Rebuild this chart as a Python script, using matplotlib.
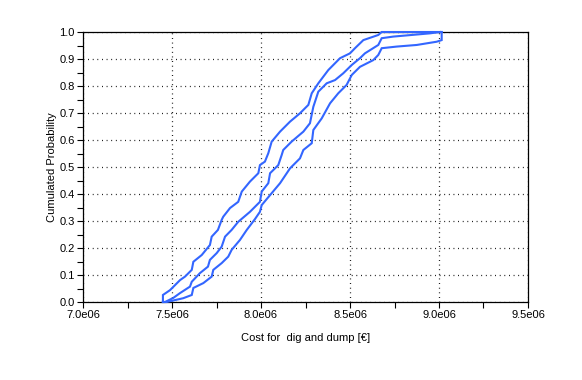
import matplotlib
matplotlib.use("Agg")
import matplotlib.pyplot as plt
from matplotlib.ticker import MultipleLocator, FuncFormatter

# Upper band (left curve)
upper_x = [7.449e6, 7.449e6, 7.489e6, 7.545e6, 7.573e6, 7.611e6, 7.620e6, 7.667e6, 7.713e6,
           7.723e6, 7.758e6, 7.779e6, 7.788e6, 7.826e6, 7.872e6, 7.892e6, 7.938e6, 7.985e6,
           7.994e6, 8.022e6, 8.041e6, 8.060e6, 8.107e6, 8.163e6, 8.219e6, 8.266e6, 8.285e6,
           8.322e6, 8.378e6, 8.444e6, 8.500e6, 8.528e6, 8.575e6, 8.659e6, 8.678e6, 9.015e6]
upper_y = [0.0, 0.026, 0.044, 0.081, 0.094, 0.119, 0.149, 0.174, 0.211,
           0.242, 0.267, 0.304, 0.316, 0.348, 0.371, 0.409, 0.446, 0.477,
           0.507, 0.520, 0.551, 0.594, 0.631, 0.668, 0.699, 0.730, 0.773,
           0.810, 0.859, 0.903, 0.921, 0.940, 0.970, 0.989, 1.0, 1.0]

# Middle curve (empirical CDF)
mid_x = [7.449e6, 7.461e6, 7.507e6, 7.545e6, 7.601e6, 7.611e6, 7.657e6, 7.702e6, 7.713e6,
         7.751e6, 7.779e6, 7.798e6, 7.835e6, 7.872e6, 7.938e6, 7.994e6, 8.004e6, 8.041e6,
         8.051e6, 8.097e6, 8.116e6, 8.125e6, 8.172e6, 8.238e6, 8.275e6, 8.294e6, 8.322e6,
         8.369e6, 8.416e6, 8.462e6, 8.510e6, 8.556e6, 8.584e6, 8.659e6, 8.678e6, 8.743e6,
         8.949e6, 9.006e6]
mid_y = [0.0, 0.0, 0.015, 0.033, 0.057, 0.075, 0.107, 0.131, 0.156,
         0.181, 0.205, 0.242, 0.267, 0.297, 0.334, 0.371, 0.409, 0.440,
         0.477, 0.507, 0.544, 0.563, 0.594, 0.631, 0.662, 0.723, 0.779,
         0.810, 0.822, 0.847, 0.878, 0.903, 0.921, 0.952, 0.977, 0.983,
         0.995, 1.0]

# Lower band (right curve)
lower_x = [7.449e6, 7.470e6, 7.563e6, 7.611e6, 7.620e6, 7.676e6, 7.723e6, 7.732e6, 7.779e6,
           7.816e6, 7.835e6, 7.882e6, 7.920e6, 7.966e6, 7.994e6, 8.004e6, 8.051e6, 8.107e6,
           8.163e6, 8.219e6, 8.238e6, 8.285e6, 8.294e6, 8.341e6, 8.388e6, 8.434e6, 8.481e6,
           8.510e6, 8.556e6, 8.631e6, 8.659e6, 8.678e6, 8.762e6, 8.875e6, 8.987e6, 9.015e6,
           9.015e6]
lower_y = [0.0, 0.0, 0.014, 0.026, 0.052, 0.070, 0.094, 0.119, 0.144,
           0.168, 0.193, 0.230, 0.267, 0.307, 0.334, 0.359, 0.396, 0.440,
           0.495, 0.532, 0.563, 0.588, 0.637, 0.680, 0.736, 0.773, 0.804,
           0.841, 0.871, 0.896, 0.915, 0.940, 0.946, 0.952, 0.964, 0.970,
           1.0]

x_ticks = [7.0e6, 7.5e6, 8.0e6, 8.5e6, 9.0e6, 9.5e6]
y_ticks = [0.0, 0.1, 0.2, 0.3, 0.4, 0.5, 0.6, 0.7, 0.8, 0.9, 1.0]

plt.rcParams['font.family'] = ['Liberation Sans', 'DejaVu Sans']

fig = plt.figure(figsize=(5.82, 3.80), dpi=100)
ax = fig.add_axes([83/582, 1 - 302/380, (528 - 83)/582, (302 - 32)/380])

color = '#3366ff'
for xs, ys in ((upper_x, upper_y), (mid_x, mid_y), (lower_x, lower_y)):
    ax.plot(xs, ys, color=color, lw=1.5, solid_joinstyle='miter', clip_on=False, zorder=3)

ax.set_xlim(7.0e6, 9.5e6)
ax.set_ylim(0.0, 1.0)
ax.set_xticks(x_ticks)
ax.set_yticks(y_ticks)
ax.xaxis.set_minor_locator(MultipleLocator(0.25e6))
ax.yaxis.set_minor_locator(MultipleLocator(0.05))
ax.xaxis.set_major_formatter(FuncFormatter(lambda v, p: f"{v/1e6:.1f}e06"))
ax.yaxis.set_major_formatter(FuncFormatter(lambda v, p: f"{v:.1f}"))

ax.tick_params(which='both', direction='out', length=4, width=0.8, colors='black',
               labelsize=8, pad=2)
ax.tick_params(which='both', top=False, right=False)

ax.grid(True, which='major', color='black', linestyle=(0, (0.7, 3.0)), linewidth=0.9)
for s in ax.spines.values():
    s.set_linewidth(0.9)
    s.set_color('black')

ax.set_xlabel("Cost for  dig and dump [€]", fontsize=8, labelpad=9)
ax.set_ylabel("Cumulated Probability", fontsize=8, labelpad=2)

fig.savefig("out.png", dpi=100)
